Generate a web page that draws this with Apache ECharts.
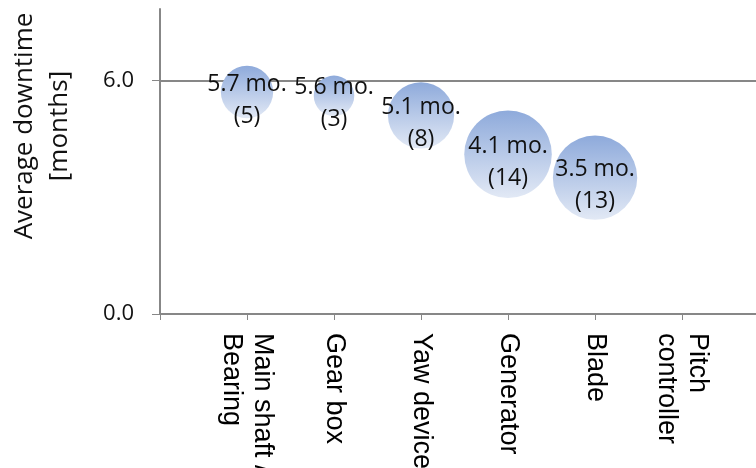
<!DOCTYPE html>
<html>
<head>
<meta charset="utf-8">
<script src="https://cdn.jsdelivr.net/npm/echarts@6/dist/echarts.min.js"></script>
<style>
  html, body { margin: 0; padding: 0; background: #fff; }
  #chart { width: 756px; height: 468px; }
</style>
</head>
<body>
<div id="chart"></div>
<script>
// Components, listed left to right along the horizontal axis
const categories = ['Main shaft /\nBearing', 'Gear box', 'Yaw device', 'Generator', 'Blade', 'Pitch\ncontroller'];
// Average downtime per failure, in months (no value for the pitch controller)
const downtime = [5.7, 5.6, 5.1, 4.1, 3.5];
// Number of failures behind each average (bubble size)
const failures = [5, 3, 8, 14, 13];
// Value-axis tick labels
const yTicks = [0, 6];

const bubbles = downtime.map((v, i) => [i + 1, v, failures[i]]);

const chart = echarts.init(document.getElementById('chart'), null, { renderer: 'canvas' });
const axisGray = '#878787';
const labelFont = "'Open Sans', sans-serif";

chart.setOption({
  animation: false,
  backgroundColor: '#ffffff',
  grid: { left: 160, right: 0, top: 9, bottom: 154, containLabel: false, outerBoundsMode: 'none' },
  xAxis: {
    type: 'value',
    min: 0,
    max: 6.85,
    interval: 1,
    axisLine: { show: true, lineStyle: { color: axisGray, width: 2 } },
    axisTick: { show: true, length: 6, lineStyle: { color: axisGray, width: 1 } },
    splitLine: { show: false },
    axisLabel: {
      rotate: -90,
      margin: 19,
      color: '#000',
      fontFamily: "'Liberation Sans', Arial, sans-serif",
      fontSize: 27,
      lineHeight: 31,
      formatter: v => {
        const k = Math.round(v);
        return (Math.abs(v - k) < 1e-6 && k >= 1 && k <= categories.length) ? categories[k - 1] : '';
      }
    }
  },
  yAxis: {
    type: 'value',
    min: 0,
    max: 7.83,
    interval: 6,
    axisLine: { show: true, lineStyle: { color: axisGray, width: 2 } },
    axisTick: { show: true, length: 8, customValues: yTicks, lineStyle: { color: axisGray, width: 1 } },
    splitLine: { show: true, showMinLine: false, lineStyle: { color: axisGray, width: 2 } },
    axisLabel: {
      customValues: yTicks,
      margin: 26,
      color: '#111',
      fontFamily: labelFont,
      fontSize: 22,
      formatter: v => v.toFixed(1)
    }
  },
  graphic: [{
    type: 'text',
    x: 42,
    y: 126,
    rotation: Math.PI / 2,
    style: {
      text: 'Average downtime\n[months]',
      fill: '#111',
      font: "26px 'Open Sans', sans-serif",
      lineHeight: 35,
      align: 'center',
      verticalAlign: 'middle'
    }
  }],
  series: [{
    type: 'scatter',
    data: bubbles,
    symbolSize: d => 23.4 * Math.sqrt(d[2]),
    itemStyle: {
      color: new echarts.graphic.LinearGradient(0, 0, 0, 1, [
        { offset: 0, color: '#8eaadb' },
        { offset: 1, color: '#e2e9f5' }
      ]),
      opacity: 1
    },
    label: {
      show: true,
      position: 'inside',
      offset: [0, 8],
      color: '#111',
      fontFamily: labelFont,
      fontSize: 23,
      lineHeight: 32,
      formatter: p => p.data[1].toFixed(1) + ' mo.\n(' + p.data[2] + ')'
    }
  }]
});
</script>
</body>
</html>
